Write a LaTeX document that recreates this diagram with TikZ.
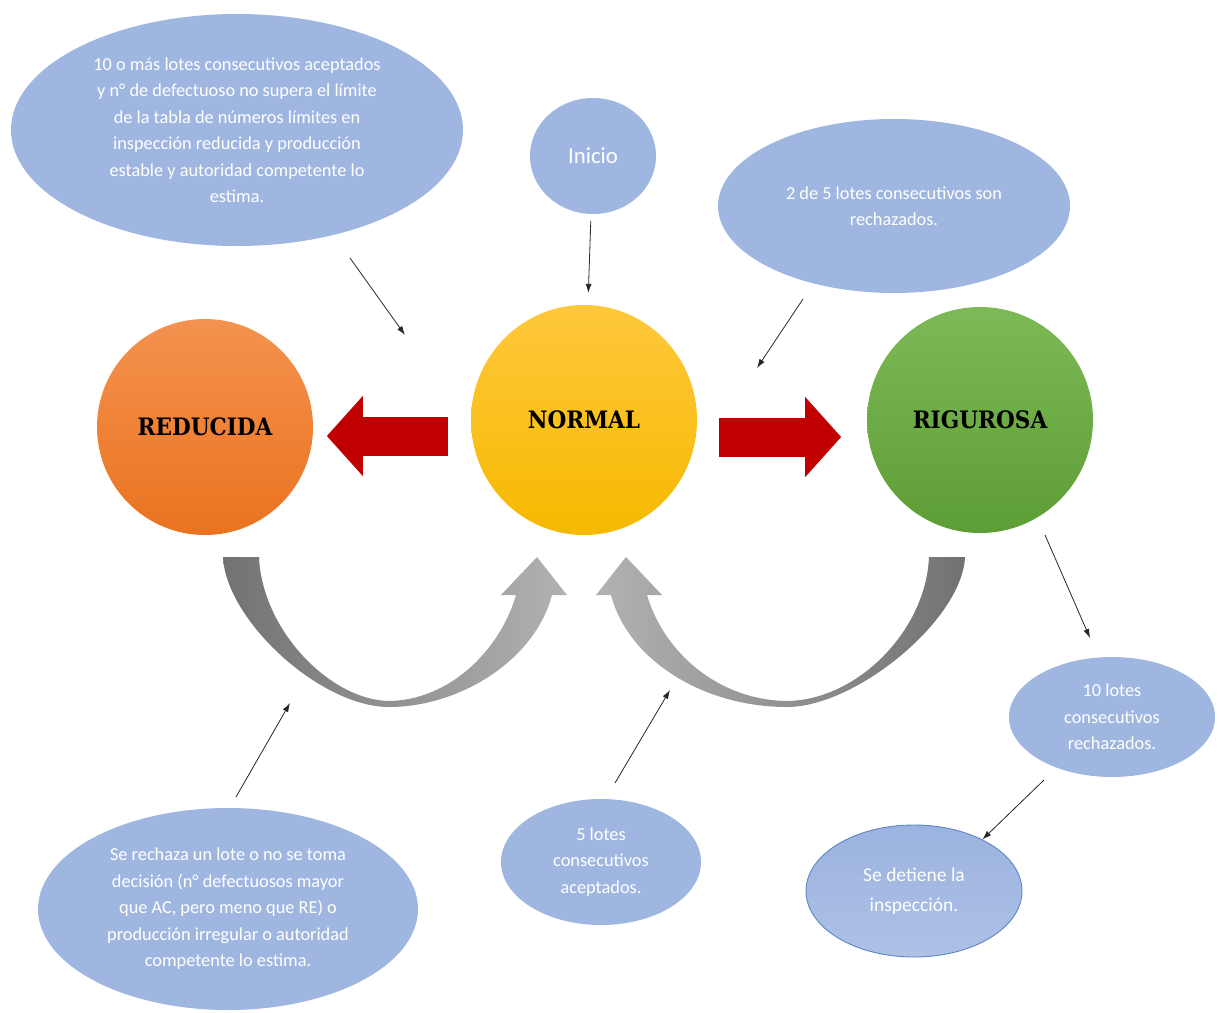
\documentclass[tikz,border=0pt]{standalone}
\usepackage{fontspec}
\setmainfont{Carlito}
\newfontfamily\labelfont{DejaVu Serif Condensed}
\usetikzlibrary{arrows.meta,shapes.geometric}

\definecolor{notafill}{HTML}{9FB6E1}
\definecolor{notaline}{HTML}{5F86C6}
\definecolor{redfill}{HTML}{C00000}
\definecolor{orangetop}{HTML}{F4924F}
\definecolor{orangebot}{HTML}{EA731F}
\definecolor{goldtop}{HTML}{FFC83C}
\definecolor{goldbot}{HTML}{F6B900}
\definecolor{greentop}{HTML}{7DBA57}
\definecolor{greenbot}{HTML}{5D9D35}
\definecolor{graydark}{HTML}{727272}
\definecolor{graylight}{HTML}{B2B2B2}

\tikzset{
  nota/.style={ellipse,fill=notafill,text=white,inner sep=0pt,align=center,
    font=\fontsize{18.3bp}{26.5bp}\selectfont},
  modo/.style={ellipse,inner sep=0pt,text=black,
    font=\labelfont\bfseries\fontsize{24bp}{26bp}\selectfont},
  flecha/.style={->,draw=black!85,line width=0.8bp},
  bigarrow/.style={draw=redfill,line width=39bp,
    -{Triangle[length=36bp,width=78bp]}},
}

\begin{document}
\begin{tikzpicture}[x=1bp,y=-1bp,>={Latex[length=9bp,width=6bp]}]
\useasboundingbox (0,0) rectangle (1221,1013);
%%
\node (cond_red) at (237,130) [nota,minimum width=452bp,minimum height=232bp]
  {10 o más lotes consecutivos aceptados\\ y n° de defectuoso no supera el límite\\ de la tabla de números límites en\\ inspección reducida y producción\\ estable y autoridad competente lo\\ estima.};
\node (inicio) at (593,156) [nota,minimum width=126bp,minimum height=116bp,
  font=\fontsize{22.8bp}{26bp}\selectfont] {Inicio};
\node (cond_rig) at (894,206) [nota,minimum width=352bp,minimum height=174bp]
  {2 de 5 lotes consecutivos son\\ rechazados.};
%
\node (reducida) at (205,427) [modo,minimum width=216bp,minimum height=216bp,
  top color=orangetop,bottom color=orangebot] {REDUCIDA};
\node (normal) at (584,420) [modo,minimum width=226bp,minimum height=230bp,
  top color=goldtop,bottom color=goldbot] {NORMAL};
\node (rigurosa) at (980,420) [modo,minimum width=226bp,minimum height=226bp,
  top color=greentop,bottom color=greenbot] {RIGUROSA};
%
\node (vuelta_red) at (228,909) [nota,minimum width=380bp,minimum height=202bp]
  {Se rechaza un lote o no se toma\\ decisión (n° defectuosos mayor\\ que AC, pero meno que RE) o\\ producción irregular o autoridad\\ competente lo estima.};
\node (vuelta_rig) at (601,862) [nota,minimum width=200bp,minimum height=126bp]
  {5 lotes\\ consecutivos\\ aceptados.};
\node (lotes_diez) at (1112,717) [nota,minimum width=206bp,minimum height=120bp]
  {10 lotes\\ consecutivos\\ rechazados.};
\node (detiene) at (914,891) [nota,minimum width=216bp,minimum height=132bp,
  draw=notaline,line width=0.9bp,top color=notafill!94!notaline,bottom color=notafill!85!white,
  font=\fontsize{19.5bp}{30bp}\selectfont] {Se detiene la\\ inspección.};
%
% red block arrows
\draw [bigarrow] ([xshift=-23bp,yshift=-16bp]normal.west) -- ++(-121,0);
\draw [bigarrow] ([xshift=22bp,yshift=-17bp]normal.east) -- ++(122,0);
%
% grey return arrows
\shade [left color=graydark,right color=graylight]
  (223,557) -- (259,557) .. controls (262,630) and (330,700) .. (389,701)
  .. controls (450,700) and (500,650) .. (516,595) -- (501,595) -- (537,557)
  -- (567,595) -- (552,595) .. controls (535,660) and (460,707) .. (389,707)
  .. controls (320,707) and (226,620) .. cycle;
\shade [left color=graylight,right color=graydark]
  (965,557) -- (929,557) .. controls (926,630) and (858,700) .. (787,701)
  .. controls (716,700) and (663,650) .. (647,595) -- (662,595) -- (626,557)
  -- (596,595) -- (611,595) .. controls (628,660) and (703,707) .. (787,707)
  .. controls (856,707) and (962,620) .. cycle;
%
% thin connectors
\coordinate (a1) at (350,258);
\coordinate (a2) at (405,335);
\coordinate (c1) at (803,299);
\coordinate (c2) at (757,368);
\coordinate (d1) at (1045,535);
\coordinate (d2) at (1090,638);
\coordinate (e1) at (1044,780);
\coordinate (f1) at (236,797);
\coordinate (f2) at (290,703);
\coordinate (g1) at (615,783);
\coordinate (g2) at (670,690);
\draw [flecha] (a1) -- (a2);
\draw [flecha,shorten <=7bp,shorten >=12bp] (inicio) -- (normal);
\draw [flecha] (c1) -- (c2);
\draw [flecha] (d1) -- (d2);
\draw [flecha] (e1) -- (detiene.37);
\draw [flecha] (f1) -- (f2);
\draw [flecha] (g1) -- (g2);
%
\end{tikzpicture}
\end{document}
